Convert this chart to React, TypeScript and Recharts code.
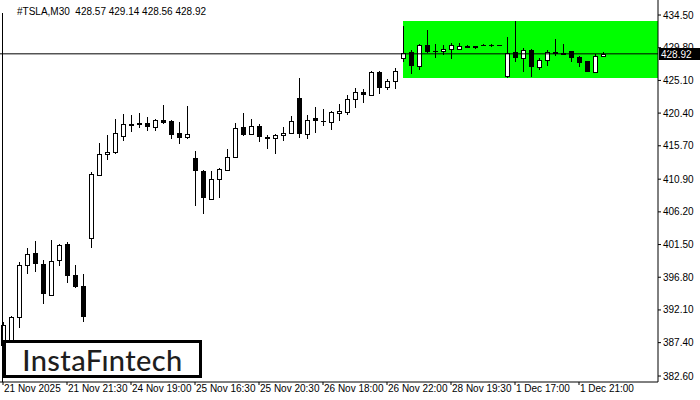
import React from 'react';
import {
  Bar,
  ComposedChart,
  ReferenceArea,
  ReferenceLine,
  XAxis,
  YAxis,
} from 'recharts';

// M30 candles (left to right)
const opens = [
  387.06, 387.1, 391.1, 398.6, 400.3, 398.7, 394.3, 399.3, 401.6, 397.1,
  395.5, 402.4, 411.5, 414.5, 414.8, 417.1, 418.8, 419.0, 419.0, 418.4,
  419.4, 419.3, 417.5, 417.0, 413.9, 412.1, 408.05, 410.9, 412.2, 414.1,
  418.4, 417.4, 418.5, 417.0, 416.8, 417.25, 417.55, 422.6, 417.4, 419.7,
  419.2, 419.1, 420.4, 420.6, 422.4, 423.4, 423.0, 426.3, 424.15, 425.0,
  428.3, 429.2, 427.2, 430.2, 429.3, 429.3, 429.6, 429.6, 430.05, 430.05,
  430.2, 430.2, 430.2, 425.7, 429.2, 428.3, 429.45, 427.0, 428.0, 429.2,
  429.0, 429.3, 428.45, 427.9, 426.3, 428.57,
];
const highs = [
  390.37, 391.2, 399.0, 401.0, 402.0, 399.3, 402.2, 401.6, 401.9, 398.6,
  397.3, 411.9, 416.1, 417.3, 419.6, 420.3, 420.1, 420.4, 419.8, 419.6,
  421.6, 419.4, 419.1, 421.4, 415.0, 412.2, 412.1, 412.5, 415.2, 419.0,
  420.4, 419.6, 418.8, 417.25, 417.4, 418.4, 420.0, 425.4, 420.1, 421.3,
  421.0, 420.7, 421.7, 423.0, 424.0, 423.9, 426.4, 426.4, 425.3, 426.9,
  432.9, 429.5, 430.3, 432.3, 430.3, 430.2, 430.5, 430.5, 430.2, 430.1,
  430.35, 430.35, 430.25, 431.3, 433.6, 429.75, 429.6, 428.3, 429.45, 431.05,
  430.3, 429.35, 428.6, 427.95, 428.9, 429.14,
];
const lows = [
  386.63, 386.3, 389.5, 397.3, 397.5, 393.0, 394.1, 398.4, 396.0, 395.3,
  390.4, 401.0, 411.3, 413.7, 414.5, 416.4, 417.7, 418.3, 417.8, 417.8,
  418.8, 416.7, 416.0, 416.7, 407.0, 405.9, 407.9, 408.2, 412.1, 414.0,
  417.1, 417.35, 416.2, 415.2, 414.5, 416.4, 417.4, 416.8, 416.7, 417.5,
  418.5, 418.0, 419.3, 420.1, 421.1, 421.85, 422.9, 423.1, 423.7, 423.9,
  427.7, 426.0, 426.6, 429.0, 428.3, 428.75, 428.2, 429.55, 429.75, 429.6,
  430.0, 429.9, 430.0, 425.45, 427.75, 426.3, 425.6, 426.6, 427.15, 428.6,
  428.9, 427.75, 427.0, 426.25, 426.25, 428.56,
];
const closes = [
  389.93, 391.1, 398.6, 400.1, 398.7, 394.4, 399.1, 401.4, 397.0, 395.4,
  391.1, 411.6, 414.5, 414.8, 417.5, 418.8, 418.85, 418.7, 418.4, 419.4,
  419.0, 417.3, 416.8, 417.4, 412.1, 408.2, 410.9, 412.4, 414.1, 418.3,
  417.25, 418.5, 417.0, 416.7, 417.25, 417.55, 419.3, 417.4, 419.4, 419.3,
  419.1, 420.55, 420.7, 422.4, 423.4, 423.0, 426.3, 424.0, 425.0, 426.45,
  429.0, 427.2, 430.2, 429.2, 429.15, 429.6, 430.2, 430.05, 429.75, 429.75,
  430.05, 430.19, 430.05, 429.05, 428.3, 429.45, 427.0, 428.0, 429.2, 428.9,
  429.05, 428.3, 427.6, 426.3, 428.6, 428.92,
];

const timeLabels = [
  '21 Nov 2025', '21 Nov 21:30', '24 Nov 19:00', '25 Nov 16:30', '25 Nov 20:30',
  '26 Nov 18:00', '26 Nov 22:00', '28 Nov 19:30', '1 Dec 17:00', '1 Dec 21:00',
];
const timeTickIndex = [0, 8, 16, 24, 32, 40, 48, 56, 64, 72];
const priceTicks = [382.6, 387.4, 392.1, 396.8, 401.5, 406.2, 410.9, 415.7, 420.4, 425.1, 429.8, 434.5];

const zoneStart = 50;
const zoneTop = 433.64;
const zoneBottom = 425.45;
const lastPrice = 428.92;
const emptySlots = 6;

const FONT = '"Liberation Sans", Arial, sans-serif';

const data = [
  ...opens.map((o, i) => ({ i, o, h: highs[i], l: lows[i], c: closes[i] })),
  ...Array.from({ length: emptySlots }, (_, k) => ({ i: opens.length + k })),
];
const slotCount = data.length;

const Candle = (props: any) => {
  const { x, y, width, height, payload } = props;
  if (payload == null || payload.h == null || height == null) return null;
  const { o, h, l, c } = payload;
  const top = Math.min(y, y + height);
  const span = Math.abs(height);
  const toY = (v: number) => top + ((h - v) / (h - l)) * span;
  const cx = Math.floor(x + width / 2) + 0.5;
  const bTop = Math.round(toY(Math.max(o, c)));
  const bBot = Math.round(toY(Math.min(o, c)));
  const up = c >= o;
  return (
    <g>
      <line x1={cx} x2={cx} y1={Math.round(top)} y2={Math.round(top + span)} stroke="#000" />
      {up ? (
        <rect x={cx - 2} y={bTop + 0.5} width={4} height={Math.max(bBot - bTop, 1)} fill="#fff" stroke="#000" />
      ) : (
        <rect x={cx - 2.5} y={bTop} width={5} height={Math.max(bBot - bTop, 1)} fill="#000" />
      )}
    </g>
  );
};

const TimeTick = (props: any) => {
  const { x, payload } = props;
  const label = timeLabels[timeTickIndex.indexOf(payload.value)];
  return (
    <text x={x + 1} y={392} textAnchor="start" fontSize={10} fontFamily={FONT} fill="#000">
      {label}
    </text>
  );
};

const PriceTag = (props: any) => {
  const vb = props.viewBox || {};
  const left = vb.x + vb.width + 1;
  const top = Math.round(vb.y) - 6;
  return (
    <g>
      <rect x={left} y={top} width={42} height={12} fill="#000" />
      <text x={left + 2} y={top + 10} fontSize={10} fontFamily={FONT} fill="#fff">
        {lastPrice.toFixed(2)}
      </text>
    </g>
  );
};

const App = () => {
  return (
    <div style={{ position: 'fixed', left: 0, top: 0, width: 700, height: 400, background: '#fff' }}>
      <ComposedChart width={700} height={400} data={data} margin={{ top: 0, right: 0, bottom: 0, left: -1 }}>
        <XAxis
          xAxisId="c"
          dataKey="i"
          type="category"
          ticks={timeTickIndex}
          interval={0}
          tick={<TimeTick />}
          tickSize={3}
          height={18}
          padding={{ left: 0, right: 3 }}
          axisLine={{ stroke: '#000' }}
          tickLine={{ stroke: '#000' }}
        />
        <XAxis xAxisId="n" dataKey="i" type="number" domain={[-0.5, slotCount - 0.125]} allowDataOverflow hide />
        <YAxis
          orientation="right"
          domain={[381.74, 436.66]}
          allowDataOverflow
          ticks={priceTicks}
          interval={0}
          tickFormatter={(v: number) => v.toFixed(2)}
          width={42}
          tickSize={3}
          tickMargin={2}
          axisLine={{ stroke: '#000' }}
          tickLine={{ stroke: '#000' }}
          tick={{ fill: '#000', fontSize: 10, fontFamily: FONT }}
        />
        <ReferenceArea
          xAxisId="n"
          x1={zoneStart}
          x2={slotCount - 0.125}
          y1={zoneBottom}
          y2={zoneTop}
          fill="#00ff00"
          fillOpacity={1}
          stroke="none"
        />
        <Bar
          xAxisId="c"
          dataKey={(d: any) => (d.h == null ? null : [d.l, d.h])}
          barSize={5}
          shape={(p: any) => <Candle {...p} />}
          isAnimationActive={false}
        />
        <ReferenceLine xAxisId="c" y={lastPrice} stroke="#000" strokeWidth={1} label={(p: any) => <PriceTag {...p} />} />
      </ComposedChart>
      <div
        style={{
          position: 'absolute', left: 17, top: 6, fontSize: 10, lineHeight: '12px',
          fontFamily: FONT, color: '#000', whiteSpace: 'pre',
        }}
      >
        {'#TSLA,M30  428.57 429.14 428.56 428.92'}
      </div>
      <div style={{ position: 'absolute', left: 2, top: 13, width: 1, height: 369, background: '#000' }} />
      <div
        style={{
          position: 'absolute', left: 3, top: 340, width: 199, height: 38, boxSizing: 'border-box',
          border: '3px solid #000', background: '#fff', display: 'flex', alignItems: 'center',
          justifyContent: 'center', fontFamily: 'Lato, "Noto Sans", sans-serif', fontSize: 29,
          fontWeight: 500, color: '#1e1e1e', letterSpacing: 0.4,
        }}
      >
        InstaFıntech
      </div>
    </div>
  );
};

export default App;
